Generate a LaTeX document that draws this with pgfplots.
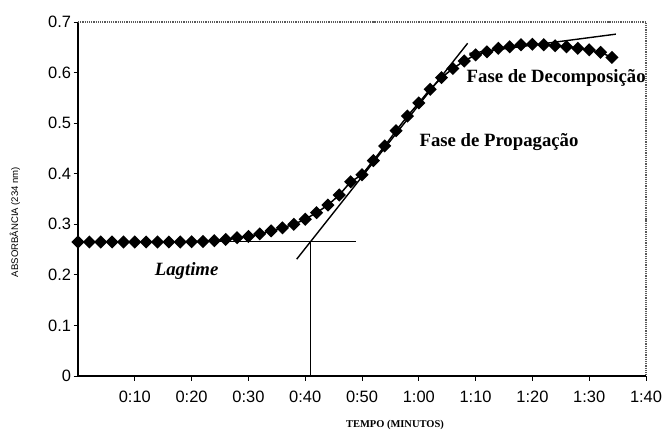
\documentclass[border=0pt]{standalone}
\usepackage{fontspec}
\setmainfont{Liberation Serif}
\setsansfont{Liberation Sans}
\usepackage{pgfplots}
\pgfplotsset{compat=1.18}
\begin{document}
\begin{tikzpicture}
\useasboundingbox (-78bp,-56bp) rectangle (587bp,376bp);
\begin{axis}[
  at={(0,0)}, anchor=south west,
  scale only axis, width=568bp, height=354bp,
  xmin=0, xmax=100, ymin=0, ymax=0.7,
  axis line style={draw=none},
  tick pos=left, tick align=outside,
  major tick length=4.5bp,
  tick style={black, line width=0.9bp},
  xtick={10,20,30,40,50,60,70,80,90,100},
  xticklabels={0:10,0:20,0:30,0:40,0:50,1:00,1:10,1:20,1:30,1:40},
  ytick={0,0.1,0.2,0.3,0.4,0.5,0.6,0.7},
  /pgf/number format/assume math mode=true,
  /pgf/number format/fixed,
  xticklabel style={font=\sffamily\fontsize{16.5}{18}\selectfont, yshift=-7bp},
  yticklabel style={font=\sffamily\fontsize{16.5}{18}\selectfont, xshift=1bp},
  xlabel={TEMPO (MINUTOS)},
  ylabel={ABSORBÂNCIA (234 nm)},
  every axis x label/.style={at={(axis description cs:0.558,-0.138)}, anchor=center, font=\bfseries\fontsize{10.5}{12}\selectfont},
  every axis y label/.style={at={(axis description cs:-0.111,0.435)}, anchor=center, rotate=90, font=\sffamily\fontsize{9.6}{11}\selectfont},
  clip=false,
]
% frame
\draw[black, line width=1.3bp] (rel axis cs:0,1) -- (rel axis cs:0,0) -- (rel axis cs:1,0);
\draw[gray!70!black, line width=1.2bp, densely dotted] (rel axis cs:0,1) -- (rel axis cs:1,1) -- (rel axis cs:1,0);
% tangent lines
\addplot[black, line width=1.4bp] coordinates {(0,0.266) (49,0.266)};
\addplot[black, line width=1.4bp] coordinates {(40.9,0) (40.9,0.266)};
\addplot[black, line width=1.4bp] coordinates {(38.5,0.231) (68.6,0.658)};
\addplot[black, line width=1.4bp] coordinates {(68.9,0.638) (94.7,0.676)};
% data
\addplot[black, line width=1.5bp, mark=square*, mark size=3.9bp, mark options={rotate=45, fill=black}] coordinates {
(0,0.265) (2,0.265) (4,0.265) (6,0.265) (8,0.265) (10,0.265) (12,0.265) (14,0.265)
(16,0.265) (18,0.265) (20,0.2655) (22,0.266) (24,0.2675) (26,0.270) (28,0.2735)
(30,0.276) (32,0.281) (34,0.287) (36,0.293) (38,0.300) (40,0.310) (42,0.323)
(44,0.338) (46,0.358) (48,0.384) (50,0.398) (52,0.426) (54,0.455) (56,0.485)
(58,0.514) (60,0.540) (62,0.567) (64,0.590) (66,0.608) (68,0.623) (70,0.635)
(72,0.641) (74,0.648) (76,0.651) (78,0.655) (80,0.656) (82,0.655) (84,0.653)
(86,0.651) (88,0.648) (90,0.645) (92,0.640) (94,0.630)
};
% annotations
\node[anchor=base west, inner sep=0pt, font=\bfseries\fontsize{18.8}{20}\selectfont] at (axis cs:68.4,0.581) {Fase de Decomposição};
\node[anchor=base west, inner sep=0pt, font=\bfseries\fontsize{18.8}{20}\selectfont] at (axis cs:60.1,0.453) {Fase de Propagação};
\node[anchor=base west, inner sep=0pt, font=\bfseries\itshape\fontsize{18.8}{20}\selectfont] at (axis cs:13.5,0.198) {Lagtime};
\end{axis}
\end{tikzpicture}
\end{document}
